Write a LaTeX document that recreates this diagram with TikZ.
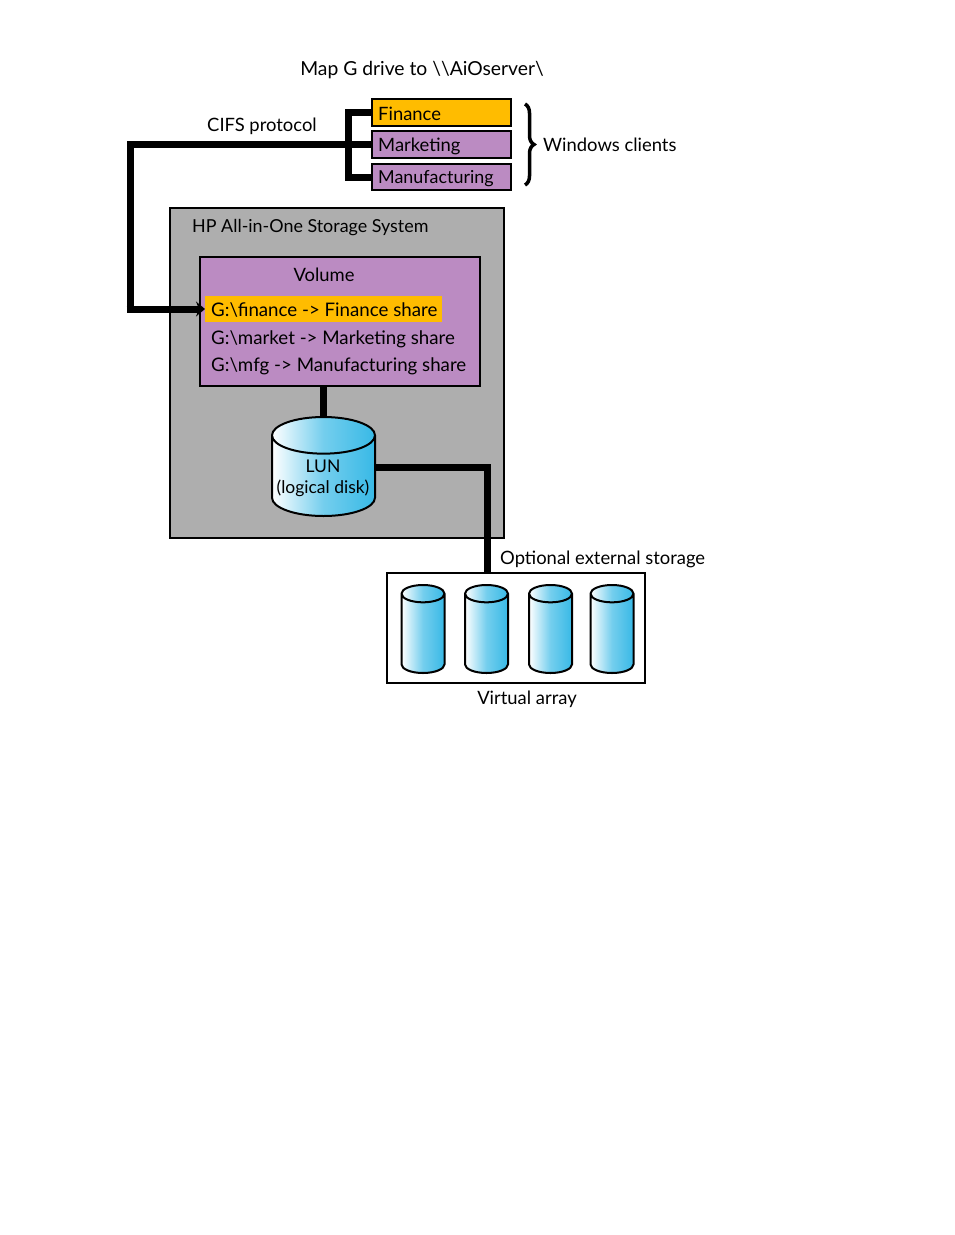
\documentclass[tikz,border=0pt]{standalone}
\usepackage{fontspec}
\setmainfont{Lato}
\usetikzlibrary{arrows.meta,decorations.pathreplacing,positioning,shapes.geometric}
\definecolor{clientorange}{HTML}{FFBC00}
\definecolor{clientpurple}{HTML}{BB8BC2}
\definecolor{systemgray}{HTML}{AEAEAE}
\definecolor{diskblue}{HTML}{38B9E6}
\tikzset{
  client/.style={draw,line width=2.2pt,minimum width=139,minimum height=27,inner sep=0pt,outer sep=0pt},
  caption/.style={inner sep=0pt,font=\fontsize{18.4}{22}\selectfont},
  boxtext/.style={caption,anchor=base west},
  sharetext/.style={boxtext,font=\fontsize{18.7}{22}\selectfont},
  link/.style={line width=7pt},
  disk/.style={cylinder,shape border rotate=90,draw,line width=2pt,left color=white,right color=diskblue,
    middle color=diskblue!70,outer sep=0pt,anchor=north},
  arraydisk/.style={disk,minimum width=43,minimum height=88,aspect=2.6},
}
\begin{document}
\begin{tikzpicture}[x=1pt,y=-1pt]
  \useasboundingbox (0,0) rectangle (954,1235);

  % system boxes
  \node (hpsystem) [draw,line width=2pt,fill=systemgray,minimum width=334,minimum height=330,outer sep=0pt] at (337,373) {};
  \node (volume) [draw,line width=2.2pt,fill=clientpurple,minimum width=280,minimum height=129,outer sep=0pt] at (340,321.5) {};
  \node (financerow) [fill=clientorange,minimum width=237,minimum height=26,inner sep=0pt,outer sep=0pt] at (323.5,309) {};
  \node (varray) [draw,line width=2pt,fill=white,minimum width=258,minimum height=110,outer sep=0pt] at (516,628) {};

  % clients
  \node (finance) [client,fill=clientorange] at (441.5,112.5) {};
  \node (marketing) [client,fill=clientpurple,below=5pt of finance] {};
  \node (manufacturing) [client,fill=clientpurple,minimum height=26,below=6pt of marketing] {};
  \coordinate (trunk) at (348,144.5);
  \coordinate (leftbend) at (130,144.5);
  \coordinate (downbend) at (130,309);
  \coordinate (bracetop) at (525,104);
  \coordinate (bracebot) at (525,185);

  % disks
  \node (lun) [disk,minimum width=103,minimum height=99,aspect=5.5] at (323.5,417) {};
  \foreach \name/\xpos in {diska/423,diskb/486.5,diskc/550.5,diskd/612}
    \node (\name) [arraydisk] at (\xpos,585) {};

  % connectors
  \draw[link] (marketing.west) -- (leftbend) -- (downbend);
  \draw[link,-{Stealth[length=9pt,width=15pt]}] (126.5,309) -- (financerow.west);
  \draw[link] (finance.west) -| (trunk) |- (manufacturing.west);
  \draw[link] (volume.south -| lun.north) -- (lun.north);
  \coordinate (lunbend) at (487,467);
  \draw[link] (lun.east |- lunbend) -- (lunbend) -- (varray.north -| lunbend);
  \draw[line width=3.5pt,decorate,decoration={brace,amplitude=9pt}] (bracetop) -- (bracebot);

  % texts
  \node (maptext) [caption,font=\fontsize{19.3}{23}\selectfont] at (422,70) {Map G drive to \textbackslash\textbackslash AiOserver\textbackslash};
  \node (cifstext) [caption] at (262,126) {CIFS protocol};
  \node (wintext) [caption,anchor=west] at (543,145) {Windows clients};
  \node (fintext) [boxtext] at (378,120) {Finance};
  \node (mkttext) [boxtext] at (378,151) {Marketing};
  \node (mfgtext) [boxtext,font=\fontsize{17.9}{22}\selectfont] at (378,183) {Manufacturing};
  \node (hptext) [boxtext,font=\fontsize{17.9}{22}\selectfont] at (192,232) {HP All-in-One Storage System};
  \node (voltext) [caption] at (324,275) {Volume};
  \node (fshare) [sharetext] at (211,316) {G:\textbackslash finance -> Finance share};
  \node (mshare) [sharetext] at (211,344) {G:\textbackslash market -> Marketing share};
  \node (pshare) [sharetext] at (211,371) {G:\textbackslash mfg -> Manufacturing share};
  \node (luntext) [caption,font=\fontsize{17.5}{21}\selectfont,align=center] at (323,478) {LUN\\(logical disk)};
  \node (opttext) [caption,anchor=west] at (500,559.5) {Optional external storage};
  \node (vatext) [caption] at (527,699.5) {Virtual array};
\end{tikzpicture}
\end{document}
